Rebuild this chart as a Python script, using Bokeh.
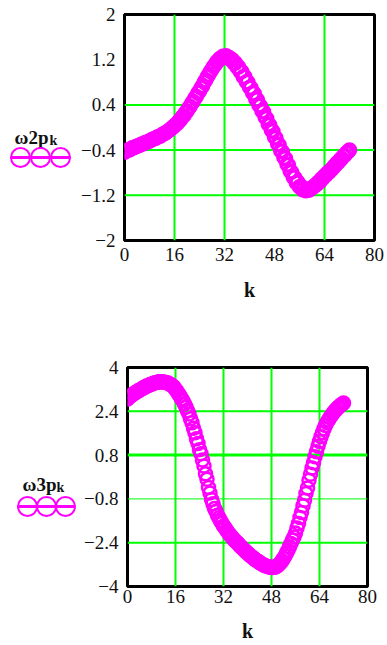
from bokeh.plotting import figure
from bokeh.layouts import column, row
from bokeh.models import Range1d, FixedTicker, Span
from bokeh.core.properties import value
from bokeh.embed import file_html
from bokeh.resources import INLINE

# sample index, half steps
k = [i / 2 for i in range(145)]

# first series, w2p_k
w2p = [-0.44, -0.41, -0.40, -0.40, -0.38, -0.36, -0.36, -0.34, -0.33, -0.32,
       -0.31, -0.29, -0.29, -0.27, -0.26, -0.25, -0.24, -0.22, -0.21, -0.20,
       -0.19, -0.17, -0.16, -0.15, -0.13, -0.11, -0.10, -0.08, -0.06, -0.04,
       -0.02, 0.01, 0.03, 0.06, 0.08, 0.12, 0.14, 0.19, 0.21, 0.26,
       0.29, 0.34, 0.37, 0.43, 0.46, 0.52, 0.55, 0.61, 0.64, 0.70,
       0.74, 0.80, 0.84, 0.90, 0.94, 0.99, 1.03, 1.08, 1.11, 1.16,
       1.18, 1.22, 1.23, 1.26, 1.25, 1.27, 1.24, 1.24, 1.20, 1.20,
       1.14, 1.14, 1.07, 1.07, 0.99, 0.99, 0.90, 0.90, 0.81, 0.80,
       0.71, 0.70, 0.61, 0.60, 0.50, 0.49, 0.40, 0.38, 0.29, 0.28,
       0.18, 0.16, 0.06, 0.04, -0.05, -0.07, -0.17, -0.19, -0.29, -0.31,
       -0.41, -0.43, -0.53, -0.55, -0.65, -0.67, -0.77, -0.79, -0.88, -0.89,
       -0.98, -0.97, -1.05, -1.04, -1.10, -1.08, -1.12, -1.10, -1.11, -1.09,
       -1.07, -1.05, -1.02, -1.01, -0.97, -0.96, -0.91, -0.90, -0.86, -0.84,
       -0.80, -0.79, -0.75, -0.73, -0.69, -0.67, -0.63, -0.61, -0.57, -0.55,
       -0.51, -0.49, -0.45, -0.43, -0.40]

# second series, w3p_k
w3p = [2.85, 2.92, 2.95, 3.01, 3.03, 3.08, 3.10, 3.15, 3.17, 3.21,
       3.23, 3.28, 3.29, 3.33, 3.34, 3.38, 3.39, 3.42, 3.43, 3.45,
       3.46, 3.48, 3.47, 3.48, 3.47, 3.46, 3.44, 3.43, 3.40, 3.37,
       3.33, 3.28, 3.20, 3.13, 3.04, 2.96, 2.86, 2.78, 2.67, 2.56,
       2.42, 2.30, 2.13, 1.98, 1.78, 1.62, 1.40, 1.22, 1.00, 0.85,
       0.62, 0.40, 0.12, -0.08, -0.38, -0.58, -0.82, -0.98, -1.15, -1.26,
       -1.40, -1.49, -1.60, -1.69, -1.79, -1.85, -1.95, -2.02, -2.10, -2.15,
       -2.22, -2.29, -2.35, -2.39, -2.45, -2.52, -2.57, -2.62, -2.68, -2.73,
       -2.78, -2.83, -2.88, -2.92, -2.96, -3.01, -3.05, -3.08, -3.12, -3.16,
       -3.19, -3.22, -3.24, -3.26, -3.28, -3.30, -3.31, -3.31, -3.30, -3.28,
       -3.24, -3.19, -3.13, -3.06, -2.98, -2.89, -2.78, -2.68, -2.55, -2.43,
       -2.30, -2.19, -2.05, -1.86, -1.70, -1.48, -1.30, -1.05, -0.85, -0.60,
       -0.40, -0.12, 0.10, 0.33, 0.52, 0.74, 0.92, 1.12, 1.30, 1.47,
       1.62, 1.76, 1.88, 1.99, 2.08, 2.17, 2.25, 2.33, 2.40, 2.46,
       2.52, 2.57, 2.62, 2.66, 2.70]

x_ticks = [0, 16, 32, 48, 64, 80]
y2_ticks = [-2, -1.2, -0.4, 0.4, 1.2, 2]
y2_labels = ["\u22122", "\u22121.2", "\u22120.4", "0.4", "1.2", "2"]
y3_ticks = [-4, -2.4, -0.8, 0.8, 2.4, 4]
y3_labels = ["\u22124", "\u22122.4", "\u22120.8", "0.8", "2.4", "4"]

# grid lines shown on each chart
grid2_x = [16, 32, 64]
grid2_y = [0.4, -0.4, -1.2]
grid3_x = [16, 32, 48, 64]
grid3_y = [2.4, 0.8, -0.8, -2.4]
grid3_y_width = [2, 3, 1, 2]

MAGENTA = "#ff00ff"
GREEN = "#00ff00"
SERIF = "'Liberation Serif', serif"
LEG_W = 76


def main_plot(h, w, y_range, yticks, ylabels, borders, x_standoff, k_standoff):
    left, right, top, bottom = borders
    p = figure(width=w, height=h, x_range=Range1d(0, 80), y_range=Range1d(*y_range),
               toolbar_location=None, output_backend="svg", title=None,
               min_border_left=left, min_border_right=right,
               min_border_top=top, min_border_bottom=bottom)
    p.background_fill_color = "white"
    p.border_fill_color = "white"
    p.outline_line_color = "black"
    p.outline_line_width = 3
    p.grid.visible = False
    p.xaxis.ticker = FixedTicker(ticks=x_ticks)
    p.yaxis.ticker = FixedTicker(ticks=yticks)
    p.yaxis.major_label_overrides = {t: s for t, s in zip(yticks, ylabels)}
    for ax in (p.xaxis[0], p.yaxis[0]):
        ax.axis_line_color = None
        ax.major_tick_line_color = None
        ax.minor_tick_line_color = None
        ax.major_tick_out = 0
        ax.major_tick_in = 0
        ax.minor_tick_out = 0
        ax.major_label_text_font = SERIF
        ax.major_label_text_font_size = "19px"
        ax.major_label_text_color = "#111111"
    p.yaxis.major_label_standoff = 9
    p.xaxis.major_label_standoff = x_standoff
    p.xaxis.axis_label = "k"
    p.xaxis.axis_label_text_font = SERIF
    p.xaxis.axis_label_text_font_style = "bold"
    p.xaxis.axis_label_text_font_size = "20px"
    p.xaxis.axis_label_text_color = "#111111"
    p.xaxis.axis_label_standoff = k_standoff
    return p


def legend_panel(h, frame_span, name, text_xy, sub_xy, circle_xs, circle_y):
    # the legend panel's frame lines up with the chart frame beside it, so its
    # vertical range is given in page pixels over that same span (top to bottom)
    lf = figure(width=LEG_W, height=h, x_range=Range1d(0, LEG_W),
                y_range=Range1d(frame_span[1], frame_span[0]),
                toolbar_location=None, output_backend="svg", title=None,
                x_axis_location=None, y_axis_location=None,
                min_border_left=0, min_border_right=0,
                min_border_top=0, min_border_bottom=0)
    lf.grid.visible = False
    lf.outline_line_color = None
    lf.background_fill_color = "white"
    lf.border_fill_color = "white"
    lf.text(x=[text_xy[0]], y=[text_xy[1]], text=[name],
            text_font=value(SERIF), text_font_style="bold", text_font_size="19px",
            text_baseline="alphabetic", text_color="#111111")
    lf.text(x=[sub_xy[0]], y=[sub_xy[1]], text=["k"],
            text_font=value(SERIF), text_font_style="bold", text_font_size="14px",
            text_baseline="alphabetic", text_color="#111111")
    lf.line(x=[circle_xs[0] - 10, circle_xs[-1] + 10], y=[circle_y, circle_y],
            line_color=MAGENTA, line_width=3)
    lf.scatter(x=circle_xs, y=[circle_y] * len(circle_xs), marker="circle", size=19,
               fill_color=None, line_color=MAGENTA, line_width=2)
    return lf


# ---- upper chart ----
p1 = main_plot(320, 387 - LEG_W, (-2, 2), y2_ticks, y2_labels,
               (48, 13, 14, 80), x_standoff=7, k_standoff=15)
for gx in grid2_x:
    p1.add_layout(Span(location=gx, dimension="height", line_color=GREEN,
                       line_width=2, level="underlay"))
for gy in grid2_y:
    p1.add_layout(Span(location=gy, dimension="width", line_color=GREEN,
                       line_width=2, level="underlay"))
p1.scatter(x=k, y=w2p, marker="circle", size=13, fill_color=None,
           line_color=MAGENTA, line_width=2.5)
l1 = legend_panel(320, (14, 240), "\u03c92p", (14, 137), (49, 140), [20, 40, 60], 157)

# ---- lower chart ----
p2 = main_plot(325, 387 - LEG_W, (-4, 4), y3_ticks, y3_labels,
               (51, 20, 47, 59), x_standoff=3, k_standoff=14)
for gx in grid3_x:
    p2.add_layout(Span(location=gx, dimension="height", line_color=GREEN,
                       line_width=2, level="underlay"))
for gy, gw in zip(grid3_y, grid3_y_width):
    p2.add_layout(Span(location=gy, dimension="width", line_color=GREEN,
                       line_width=gw, level="underlay"))
p2.scatter(x=k, y=w3p, marker="circle", size=13, fill_color=None,
           line_color=MAGENTA, line_width=2.5)
l2 = legend_panel(325, (367, 586), "\u03c93p", (22, 484), (56, 487), [27, 46, 65], 506)

layout = column(row(l1, p1), row(l2, p2))

open("out.html", "w").write(file_html(layout, INLINE))
